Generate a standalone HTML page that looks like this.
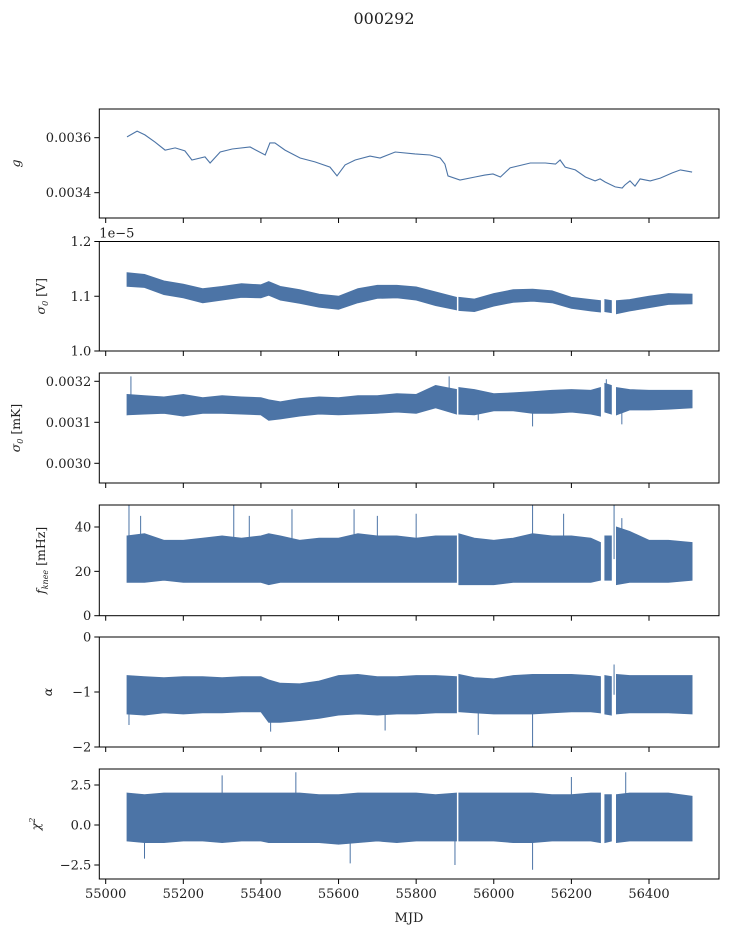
<!DOCTYPE html>
<html><head><meta charset="utf-8"><style>
html,body{margin:0;padding:0;background:#fff}
svg{display:block;font-family:"DejaVu Serif","Liberation Serif",serif}
</style></head><body>
<svg id="fig" width="729" height="936" viewBox="0 0 729 936">
<text x="384" y="24" font-size="16" text-anchor="middle" fill="#222">000292</text>
</svg>
<script>
// ---- data ----
const gMJD = [55055,55081,55101,55127,55153,55179,55204,55222,55256,55269,55295,55326,55372,55411,55423,55436,55462,55501,55539,55578,55596,55617,55643,55681,55707,55746,55797,55836,55862,55874,55882,55913,55952,55977,55998,56017,56042,56094,56133,56159,56171,56184,56210,56236,56261,56274,56287,56313,56331,56338,56351,56364,56377,56403,56429,56460,56481,56511];
const gVal = [0.003603,0.003624,0.00361,0.003584,0.003555,0.003563,0.003552,0.003519,0.00353,0.003508,0.003548,0.003559,0.003566,0.003537,0.003581,0.003581,0.003555,0.003526,0.003512,0.003493,0.003461,0.003501,0.003519,0.003533,0.003526,0.003548,0.003541,0.003537,0.003526,0.003504,0.003461,0.003446,0.003457,0.003464,0.003468,0.003457,0.00349,0.003508,0.003508,0.003504,0.003519,0.003493,0.003483,0.003457,0.003443,0.00345,0.003439,0.003421,0.003417,0.003428,0.003443,0.003424,0.00345,0.003443,0.003453,0.003472,0.003483,0.003475];
const bandMJD = [55055,55100,55150,55200,55250,55300,55350,55400,55420,55450,55500,55550,55600,55650,55700,55750,55800,55850,55904,55906,55910,55950,56000,56050,56100,56150,56200,56250,56275,56280,56286,56303,56309,56316,56350,56400,56450,56511];
const s0vHi = [1.143,1.14,1.128,1.122,1.114,1.118,1.123,1.121,1.127,1.118,1.112,1.104,1.1,1.114,1.12,1.12,1.117,1.108,1.098,null,1.098,1.095,1.105,1.112,1.113,1.11,1.098,1.094,1.092,null,1.094,1.092,null,1.092,1.094,1.1,1.105,1.104];
const s0vLo = [1.118,1.116,1.103,1.097,1.088,1.093,1.098,1.097,1.102,1.093,1.087,1.08,1.076,1.088,1.096,1.097,1.093,1.083,1.075,null,1.074,1.072,1.082,1.089,1.091,1.088,1.078,1.073,1.071,null,1.072,1.07,null,1.068,1.073,1.079,1.085,1.086];
const s0kHi = [0.003168,0.003165,0.003162,0.003168,0.00316,0.003165,0.003162,0.00316,0.003155,0.00315,0.003158,0.003162,0.00316,0.003165,0.003165,0.00317,0.003168,0.00319,0.00318,null,0.003185,0.00318,0.00317,0.003172,0.003175,0.003178,0.00318,0.003178,0.003185,null,0.003195,0.00319,null,0.003185,0.00318,0.003178,0.003178,0.003178];
const s0kLo = [0.003118,0.00312,0.003122,0.003115,0.003122,0.003122,0.00312,0.003118,0.003105,0.003108,0.003115,0.00312,0.003118,0.00312,0.003122,0.003125,0.003122,0.003135,0.00312,null,0.00312,0.003118,0.003128,0.003128,0.003122,0.003122,0.003125,0.00312,0.003115,null,0.003125,0.00312,null,0.003118,0.00313,0.00313,0.003132,0.003135];
const fkHi = [36,37,34,34,35,36,35,36,37,36,34,35,35,37,36,36,35,36,36,null,37,35,34,35,37,36,36,35,33,null,36,36,null,40,38,34,34,33];
const fkLo = [15,15,16,15,15,15,15,15,14,15,15,15,15,15,15,15,15,15,15,null,14,14,14,15,15,15,15,15,16,null,16,16,null,14,15,15,15,16];
const alHi = [-0.7,-0.72,-0.74,-0.72,-0.72,-0.74,-0.72,-0.72,-0.78,-0.84,-0.85,-0.8,-0.7,-0.68,-0.72,-0.72,-0.7,-0.7,-0.72,null,-0.68,-0.74,-0.76,-0.7,-0.68,-0.68,-0.68,-0.7,-0.72,null,-0.7,-0.72,null,-0.68,-0.7,-0.7,-0.7,-0.7];
const alLo = [-1.4,-1.42,-1.38,-1.4,-1.38,-1.38,-1.36,-1.36,-1.55,-1.55,-1.52,-1.48,-1.42,-1.4,-1.42,-1.4,-1.4,-1.38,-1.38,null,-1.36,-1.38,-1.4,-1.4,-1.4,-1.38,-1.36,-1.36,-1.38,null,-1.4,-1.42,null,-1.4,-1.38,-1.38,-1.38,-1.4];
const chHi = [2.0,1.9,2.0,2.0,2.0,2.0,2.0,2.0,2.0,2.0,2.0,1.9,1.9,2.0,2.0,2.0,2.0,1.9,2.0,null,2.0,2.0,2.0,2.0,2.0,1.9,1.9,2.0,2.0,null,1.9,1.9,null,1.9,2.0,2.0,2.0,1.8];
const chLo = [-1.0,-1.1,-1.1,-1.0,-1.0,-1.1,-1.0,-1.0,-1.1,-1.1,-1.1,-1.1,-1.2,-1.1,-1.0,-1.1,-1.0,-1.0,-1.0,null,-1.0,-1.0,-1.0,-1.1,-1.1,-1.0,-1.0,-1.0,-1.1,null,-1.1,-1.0,null,-1.1,-1.0,-1.0,-1.0,-1.0];
const s0kSpikeMJD = [55065,55885,55960,56100,56290,56330];
const s0kSpikeVal = [0.003212,0.003212,0.003105,0.00309,0.003205,0.003095];
const fkSpikeMJD = [55060,55090,55330,55370,55480,55640,55700,55800,56100,56180,56310,56330];
const fkSpikeVal = [51,45,51,45,48,48,45,46,51,46,51,44];
const alSpikeMJD = [55425,55720,55960,56100,56310,55060];
const alSpikeVal = [-1.72,-1.7,-1.78,-2.05,-0.5,-1.6];
const chSpikeMJD = [55100,55300,55490,55630,55900,56100,56340,56200];
const chSpikeVal = [-2.1,3.1,3.3,-2.4,-2.5,-2.8,3.3,3.0];
const xTicks = [55000,55200,55400,55600,55800,56000,56200,56400];

// ---- layout ----
const NS="http://www.w3.org/2000/svg";
const svg=document.getElementById('fig');
const COL="#4c74a6";
const FS=13;
const X0=99.3,X1=719;
function xs(m){return 105.7+(m-55000)*(649-105.7)/1400;}
function mk(tag,attrs,parent){const e=document.createElementNS(NS,tag);for(const k in attrs)e.setAttribute(k,attrs[k]);(parent||svg).appendChild(e);return e;}
function lin(v0,p0,v1,p1){return v=>p0+(v-v0)*(p1-p0)/(v1-v0);}

const panels=[
 {name:'gain',top:109,bot:218,ys:lin(0.0036,137.7,0.0034,192.7),ticks:[0.0034,0.0036],fmt:v=>v.toFixed(4),label:'g',lx:20},
 {name:'sigma0-volts',top:241.5,bot:351,ys:lin(1.2,241.5,1.0,351),ticks:[1.0,1.1,1.2],fmt:v=>v.toFixed(1),label:'σ0 [V]',lx:45,off:true},
 {name:'sigma0-mk',top:373,bot:483,ys:lin(0.0032,381.3,0.0030,463.3),ticks:[0.0030,0.0031,0.0032],fmt:v=>v.toFixed(4),label:'σ0 [mK]',lx:20},
 {name:'fknee',top:505,bot:615.7,ys:lin(40,527,0,615.7),ticks:[0,20,40],fmt:v=>String(v),label:'fknee [mHz]',lx:45},
 {name:'alpha',top:637,bot:747,ys:lin(0,637,-2,747),ticks:[-2,-1,0],fmt:v=>v<0?'−'+Math.abs(v):String(v),label:'α',lx:52},
 {name:'chi2',top:769,bot:879,ys:lin(2.5,785,-2.5,865),ticks:[-2.5,0,2.5],fmt:v=>v<0?'−'+Math.abs(v).toFixed(1):v.toFixed(1),label:'χ2',lx:40}
];
const bands=[null,[s0vHi,s0vLo],[s0kHi,s0kLo],[fkHi,fkLo],[alHi,alLo],[chHi,chLo]];
const spikes=[null,null,[s0kSpikeMJD,s0kSpikeVal],[fkSpikeMJD,fkSpikeVal],[alSpikeMJD,alSpikeVal],[chSpikeMJD,chSpikeVal]];

panels.forEach((p,i)=>{
 const g=mk('g',{});
 
 
 const cp=mk('clipPath',{id:'cp'+i},g);
 mk('rect',{x:X0,y:p.top,width:X1-X0,height:p.bot-p.top},cp);
 const dg=mk('g',{'clip-path':'url(#cp'+i+')'},g);
 if(i===0){
  const d=gMJD.map((m,k)=>(k?'L':'M')+xs(m).toFixed(1)+' '+p.ys(gVal[k]).toFixed(1)).join('');
  const l=mk('path',{d:d,fill:'none',stroke:COL,'stroke-width':1.1},dg);
  
  
 } else {
  const [hi,lo]=bands[i];
  let seg=[];const segs=[];
  bandMJD.forEach((m,k)=>{if(hi[k]===null){if(seg.length)segs.push(seg);seg=[];}else seg.push(k);});
  if(seg.length)segs.push(seg);
  segs.forEach(s=>{
   let d=s.map((k,j)=>(j?'L':'M')+xs(bandMJD[k]).toFixed(1)+' '+p.ys(hi[k]).toFixed(1)).join('');
   d+=s.slice().reverse().map(k=>'L'+xs(bandMJD[k]).toFixed(1)+' '+p.ys(lo[k]).toFixed(1)).join('')+'Z';
   const b=mk('path',{d:d,fill:COL,stroke:COL,'stroke-width':0.8},dg);
   
   
  });
  if(spikes[i]){
   const [sm,sv]=spikes[i];
   sm.forEach((m,k)=>{
    const mid=(hi[0]+lo[0])/2;
    const l=mk('line',{x1:xs(m),x2:xs(m),y1:p.ys(mid),y2:p.ys(sv[k]),stroke:COL,'stroke-width':1},dg);
    
    
   });
  }
 }
 const fr=mk('rect',{x:X0,y:p.top,width:X1-X0,height:p.bot-p.top,fill:'none',stroke:'#000','stroke-width':1},g);
 
 
 p.ticks.forEach(t=>{
  const y=p.ys(t);
  mk('line',{x1:X0-5,x2:X0,y1:y,y2:y,stroke:'#000','stroke-width':1},g);
  const tx=mk('text',{x:X0-8,y:y+4.5,'font-size':FS,'text-anchor':'end',fill:'#222'},g);
  tx.textContent=p.fmt(t);
  
  
 });
 xTicks.forEach(m=>{
  mk('line',{x1:xs(m),x2:xs(m),y1:p.bot,y2:p.bot+5,stroke:'#000','stroke-width':1},g);
  if(i===5){
   const tx=mk('text',{x:xs(m),y:p.bot+19,'font-size':FS,'text-anchor':'middle',fill:'#222'},g);
   tx.textContent=String(m);
   
   
  }
 });
 const cy=(p.top+p.bot)/2;
 const lab=mk('text',{x:p.lx,y:cy,'font-size':12.5,'text-anchor':'middle',fill:'#222',transform:'rotate(-90 '+p.lx+' '+cy+')','font-style':'italic'},g);
 
 
 if(p.label==='σ0 [V]'||p.label==='σ0 [mK]'){
  lab.textContent='σ';const s=mk('tspan',{'font-size':8,dy:3},lab);s.textContent='0';
  const r=mk('tspan',{dy:-3,'font-style':'normal'},lab);r.textContent=p.label.slice(2);
 } else if(p.label==='fknee [mHz]'){
  lab.textContent='f';const s=mk('tspan',{'font-size':8,dy:3},lab);s.textContent='knee';
  const r=mk('tspan',{dy:-3,'font-style':'normal'},lab);r.textContent=' [mHz]';
 } else if(p.label==='χ2'){
  lab.textContent='χ';const s=mk('tspan',{'font-size':8,dy:-5},lab);s.textContent='2';
 } else lab.textContent=p.label;
 if(p.off){
  const o=mk('text',{x:X0,y:p.top-4,'font-size':FS,fill:'#222'},g);
  o.textContent='1e−5';
  
  
 }
});
const xl=mk('text',{x:409,y:922,'font-size':FS,'text-anchor':'middle',fill:'#222'});
xl.textContent='MJD';


</script>
</body></html>
